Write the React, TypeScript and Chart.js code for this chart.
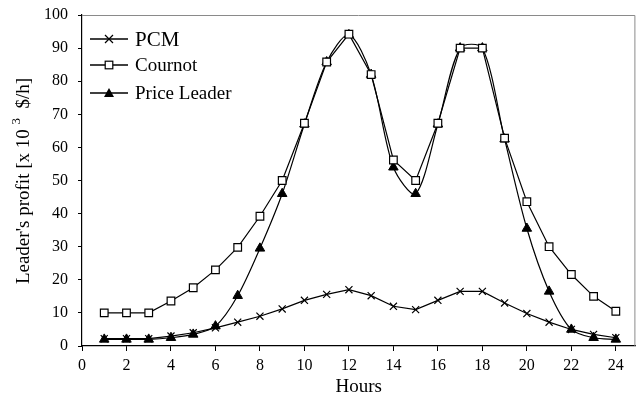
import React, { useEffect, useRef } from "react";
import { Chart, registerables } from "chart.js";

Chart.register(...registerables);

const hours = [1, 2, 3, 4, 5, 6, 7, 8, 9, 10, 11, 12, 13, 14, 15, 16, 17, 18, 19, 20, 21, 22, 23, 24];
const pcm = [2.2, 2.2, 2.2, 3, 4, 5.5, 7.2, 9, 11.2, 13.8, 15.6, 17, 15.2, 12, 11, 13.8, 16.5, 16.5, 13, 9.8, 7.2, 5, 3.5, 2.5];
const cournot = [10, 10, 10, 13.6, 17.6, 23, 29.8, 39.2, 50, 67.3, 85.8, 94.2, 82, 56.2, 50, 67.3, 90, 90, 62.8, 43.6, 30, 21.6, 15, 10.5];
const priceLeader = [2, 2, 2, 2.5, 3.5, 6, 15.2, 29.5, 46, 67, 85.8, 94, 82, 54, 46, 67, 90, 90, 62.5, 35.5, 16.5, 5, 2.5, 2];
const xTicks = [0, 2, 4, 6, 8, 10, 12, 14, 16, 18, 20, 22, 24];
const seriesNames = ["PCM", "Cournot", "Price Leader"];
const yTitleParts = ["Leader's profit [x 10 ", "3", "  $/h]"];

const FONT = "'Liberation Serif', 'Times New Roman', serif";

function drawMarker(ctx: CanvasRenderingContext2D, kind: string, x: number, y: number) {
  ctx.save();
  ctx.strokeStyle = "#000";
  ctx.lineWidth = 1.2;
  if (kind === "cross") {
    const s = 4;
    ctx.beginPath();
    ctx.moveTo(x - s, y - s);
    ctx.lineTo(x + s, y + s);
    ctx.moveTo(x + s, y - s);
    ctx.lineTo(x - s, y + s);
    ctx.stroke();
  } else if (kind === "rect") {
    const s = 3.8;
    ctx.fillStyle = "#fff";
    ctx.fillRect(x - s, y - s, 2 * s, 2 * s);
    ctx.strokeRect(x - s, y - s, 2 * s, 2 * s);
  } else {
    ctx.fillStyle = "#000";
    ctx.beginPath();
    ctx.moveTo(x, y - 5);
    ctx.lineTo(x + 5, y + 4);
    ctx.lineTo(x - 5, y + 4);
    ctx.closePath();
    ctx.fill();
  }
  ctx.restore();
}

const framePlugin = {
  id: "frameLegend",
  afterDraw(chart: any) {
    const { ctx, chartArea } = chart;
    const { left, right, top, bottom } = chartArea;
    ctx.save();
    ctx.strokeStyle = "#8a8a8a";
    ctx.lineWidth = 1;
    ctx.beginPath();
    ctx.moveTo(left, top + 0.5);
    ctx.lineTo(right - 0.5, top + 0.5);
    ctx.lineTo(right - 0.5, bottom);
    ctx.stroke();
    // legend
    const rows = [
      { kind: "cross", y: 39, size: 21 },
      { kind: "rect", y: 65, size: 19 },
      { kind: "triangle", y: 93, size: 19 },
    ];
    rows.forEach((r, i) => {
      ctx.strokeStyle = "#000";
      ctx.lineWidth = 1.3;
      ctx.beginPath();
      ctx.moveTo(90, r.y);
      ctx.lineTo(128, r.y);
      ctx.stroke();
      drawMarker(ctx, r.kind, 109, r.y);
      ctx.fillStyle = "#000";
      ctx.font = `${r.size}px ${FONT}`;
      ctx.textBaseline = "middle";
      ctx.textAlign = "left";
      ctx.fillText(seriesNames[i], 135, r.y + 1);
    });
    // y axis title with superscript
    const big = `19px ${FONT}`;
    const small = `13px ${FONT}`;
    ctx.font = big;
    const w0 = ctx.measureText(yTitleParts[0]).width;
    const w2 = ctx.measureText(yTitleParts[2]).width;
    ctx.font = small;
    const w1 = ctx.measureText(yTitleParts[1]).width;
    const total = w0 + w1 + w2;
    ctx.translate(24, 181);
    ctx.rotate(-Math.PI / 2);
    ctx.textBaseline = "middle";
    ctx.textAlign = "left";
    let x = -total / 2;
    ctx.font = big;
    ctx.fillText(yTitleParts[0], x, 0);
    x += w0;
    ctx.font = small;
    ctx.fillText(yTitleParts[1], x, -7);
    x += w1;
    ctx.font = big;
    ctx.fillText(yTitleParts[2], x, 0);
    ctx.restore();
  },
};

export default function App() {
  const ref = useRef<HTMLCanvasElement>(null);
  useEffect(() => {
    document.body.style.margin = "0";
    const chart = new Chart(ref.current!, {
      type: "line",
      data: {
        datasets: [
          {
            label: seriesNames[0],
            data: hours.map((h, i) => ({ x: h, y: pcm[i] })),
            borderColor: "#000",
            backgroundColor: "#000",
            borderWidth: 1.2,
            pointStyle: "crossRot",
            pointRadius: 5,
            pointBorderWidth: 1.2,
            tension: 0,
          },
          {
            label: seriesNames[1],
            data: hours.map((h, i) => ({ x: h, y: cournot[i] })),
            borderColor: "#000",
            backgroundColor: "#fff",
            borderWidth: 1.2,
            pointStyle: "rect",
            pointRadius: 5.4,
            pointBorderWidth: 1.2,
            tension: 0,
          },
          {
            label: seriesNames[2],
            data: hours.map((h, i) => ({ x: h, y: priceLeader[i] })),
            borderColor: "#000",
            backgroundColor: "#000",
            borderWidth: 1.2,
            pointStyle: "triangle",
            pointRadius: 5.5,
            pointBorderWidth: 1,
            tension: 0.3,
          },
        ],
      },
      options: {
        responsive: false,
        animation: false,
        layout: { padding: { top: 15, right: 3, left: 0, bottom: 0 } },
        plugins: { legend: { display: false }, tooltip: { enabled: false } },
        scales: {
          x: {
            type: "linear",
            min: 0,
            max: 24.88,
            afterBuildTicks: (scale: any) => {
              scale.ticks = xTicks.map((v) => ({ value: v }));
            },
            afterFit: (scale: any) => {
              scale.height = 52;
              scale.paddingLeft = 0;
              scale.paddingRight = 0;
            },
            grid: { drawOnChartArea: false, tickLength: 5, color: "#000" },
            border: { color: "#000", width: 1.2 },
            ticks: { color: "#000", font: { family: FONT, size: 16 }, padding: 5, maxRotation: 0, autoSkip: false },
            title: { display: true, text: "Hours", color: "#000", font: { family: FONT, size: 19 }, padding: { top: 0, bottom: 0 } },
          },
          y: {
            min: 0,
            max: 100,
            afterFit: (scale: any) => {
              scale.width = 82;
              scale.paddingTop = 0;
              scale.paddingBottom = 0;
            },
            grid: { drawOnChartArea: false, tickLength: 4, color: "#000" },
            border: { color: "#000", width: 1.2 },
            ticks: { stepSize: 10, color: "#000", font: { family: FONT, size: 16 }, padding: 10 },
          },
        },
      },
      plugins: [framePlugin],
    });
    return () => chart.destroy();
  }, []);
  return <canvas ref={ref} width={642} height={398} style={{ display: "block" }} />;
}
